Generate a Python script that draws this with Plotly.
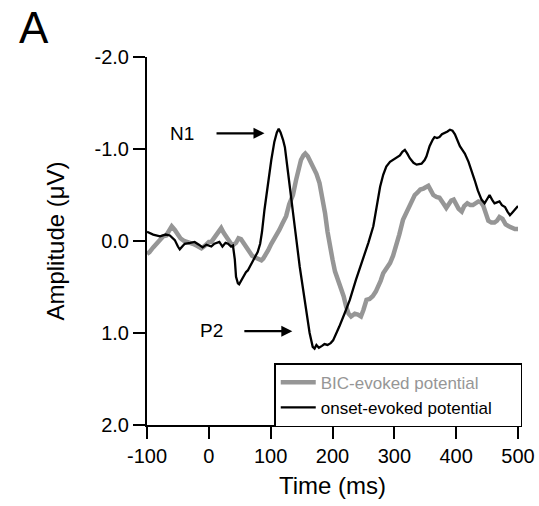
import plotly.graph_objects as go

# Onset-evoked potential (black)
onset_t = [-100,-90,-79,-70,-63,-55,-50,-47,-43,-39,-30,-23,-16,-10,-4,4,9,17,22,27,31,36,39,42,44,47,49,52,55,60,63,67,71,75,79,83,86,90,93,97,101,106,110,113,116,120,123,128,133,140,147,155,163,168,171,174,178,183,187,192,197,201,206,211,220,228,238,249,258,266,272,277,282,287,293,298,304,309,313,317,321,325,331,336,344,349,352,357,362,365,369,373,377,381,386,390,394,398,402,406,410,414,420,425,430,435,441,446,450,454,458,462,466,470,474,479,483,487,491,496,500]
onset_a = [-0.10,-0.07,-0.05,-0.07,-0.06,-0.01,0.06,0.09,0.06,0.03,0.02,0.01,0.04,0.07,0.04,0.06,0.03,0.01,0.06,0.02,0.03,0.06,0.05,0.2,0.39,0.46,0.47,0.43,0.39,0.34,0.32,0.27,0.22,0.17,0.12,0.03,-0.1,-0.34,-0.5,-0.7,-0.88,-1.08,-1.18,-1.22,-1.18,-1.1,-1.02,-0.75,-0.45,-0.1,0.28,0.65,1.0,1.15,1.17,1.13,1.16,1.14,1.12,1.13,1.11,1.08,1.01,0.93,0.78,0.64,0.42,0.21,0.02,-0.16,-0.38,-0.59,-0.72,-0.81,-0.86,-0.88,-0.91,-0.93,-0.97,-0.99,-0.95,-0.9,-0.85,-0.83,-0.84,-0.88,-0.92,-1.03,-1.1,-1.13,-1.12,-1.13,-1.16,-1.17,-1.19,-1.21,-1.2,-1.16,-1.1,-1.03,-0.99,-0.95,-0.86,-0.77,-0.66,-0.55,-0.45,-0.41,-0.45,-0.5,-0.45,-0.41,-0.42,-0.43,-0.39,-0.37,-0.32,-0.28,-0.31,-0.35,-0.38]

# BIC-evoked potential (gray)
bic_t = [-100,-96,-90,-85,-80,-74,-69,-64,-60,-55,-50,-46,-40,-33,-26,-20,-12,-6,0,4,8,12,16,20,24,28,31,36,40,44,48,52,56,59,62,66,70,75,80,85,88,92,96,101,105,109,114,119,125,130,136,141,145,149,153,156,160,165,170,174,179,184,188,192,196,200,204,209,214,218,222,226,230,236,241,246,250,255,260,265,270,274,278,282,287,293,298,303,308,314,319,325,329,333,338,342,347,352,355,359,363,368,373,378,384,388,392,396,400,404,409,413,418,423,427,431,436,440,444,448,452,457,462,466,470,475,480,485,490,495,500]
bic_a = [0.14,0.12,0.07,0.03,-0.01,-0.05,-0.06,-0.11,-0.16,-0.12,-0.06,-0.03,0.0,0.01,0.03,0.05,0.08,0.05,0.01,0.01,-0.03,-0.07,-0.11,-0.14,-0.09,-0.04,-0.02,0.03,0.04,0.02,-0.03,-0.02,0.02,0.06,0.1,0.13,0.16,0.18,0.19,0.21,0.19,0.15,0.1,0.03,-0.01,-0.06,-0.12,-0.19,-0.27,-0.4,-0.5,-0.66,-0.8,-0.88,-0.93,-0.95,-0.92,-0.85,-0.78,-0.73,-0.63,-0.47,-0.3,-0.1,0.08,0.2,0.33,0.42,0.5,0.6,0.71,0.79,0.82,0.79,0.8,0.82,0.75,0.64,0.63,0.6,0.55,0.5,0.43,0.35,0.3,0.24,0.16,0.06,-0.07,-0.23,-0.3,-0.37,-0.45,-0.5,-0.53,-0.56,-0.57,-0.59,-0.6,-0.55,-0.5,-0.48,-0.47,-0.42,-0.36,-0.4,-0.44,-0.45,-0.39,-0.35,-0.32,-0.38,-0.41,-0.39,-0.39,-0.41,-0.43,-0.42,-0.38,-0.3,-0.22,-0.2,-0.2,-0.22,-0.26,-0.24,-0.18,-0.16,-0.14,-0.13,-0.13]

x_ticks = [-100, 0, 100, 200, 300, 400, 500]
x_tick_labels = ["-100", "0", "100", "200", "300", "400", "500"]
y_ticks = [-2.0, -1.0, 0.0, 1.0, 2.0]
y_tick_labels = ["-2.0", "-1.0", "0.0", "1.0", "2.0"]

FONT = "Liberation Sans, Arial, sans-serif"
GRAY = "#969696"

fig = go.Figure()
fig.add_trace(go.Scatter(x=bic_t, y=bic_a, mode="lines",
                         line=dict(color=GRAY, width=4.5),
                         name=f"<span style='color:{GRAY}'>BIC-evoked potential</span>"))
fig.add_trace(go.Scatter(x=onset_t, y=onset_a, mode="lines",
                         line=dict(color="black", width=2.3),
                         name="onset-evoked potential&nbsp;&nbsp;&nbsp;&nbsp;&nbsp;"))

axis_common = dict(showline=True, linecolor="black", linewidth=2, showgrid=False,
                   zeroline=False, ticks="outside", ticklen=12, tickwidth=2, automargin=False,
                   tickcolor="black", tickfont=dict(size=20, color="black", family=FONT))

fig.update_xaxes(range=[-100, 500], tickvals=x_ticks, ticktext=x_tick_labels,
                 title=dict(text="Time (ms)", font=dict(size=24, family=FONT, color="black"), standoff=11),
                 **axis_common)
fig.update_yaxes(range=[2.0, -2.0], tickvals=y_ticks, ticktext=y_tick_labels,
                 title=dict(text="Amplitude (μV)", font=dict(size=24, family=FONT, color="black"), standoff=23),
                 **axis_common)

# N1 / P2 labels with arrows
fig.add_annotation(x=90, y=-1.17, ax=10, ay=-1.17, xref="x", yref="y", axref="x", ayref="y",
                   text="", showarrow=True, arrowhead=2, arrowsize=1, arrowwidth=2.2, arrowcolor="black")
fig.add_annotation(x=-44, y=-1.17, xref="x", yref="y", text="N1", showarrow=False,
                   font=dict(size=19, family=FONT, color="black"))
fig.add_annotation(x=135, y=0.98, ax=55, ay=0.98, xref="x", yref="y", axref="x", ayref="y",
                   text="", showarrow=True, arrowhead=2, arrowsize=1, arrowwidth=2.2, arrowcolor="black")
fig.add_annotation(x=5, y=0.97, xref="x", yref="y", text="P2", showarrow=False,
                   font=dict(size=19, family=FONT, color="black"))

# Panel letter
fig.add_annotation(x=-0.305, y=1.079, xref="paper", yref="paper", text="A", showarrow=False,
                   xanchor="center", yanchor="middle",
                   font=dict(size=44, family=FONT, color="black"))

fig.update_layout(
    width=539, height=506,
    margin=dict(l=147, r=21, t=57, b=81, autoexpand=False),
    plot_bgcolor="white", paper_bgcolor="white",
    font=dict(family=FONT, color="black"),
    showlegend=True,
    legend=dict(x=0.343, y=0.168, xanchor="left", yanchor="top",
                bgcolor="white", bordercolor="black", borderwidth=1.5,
                font=dict(size=17, family=FONT, color="black"),
                tracegroupgap=0, itemwidth=35),
)

fig.write_html("out.html")
